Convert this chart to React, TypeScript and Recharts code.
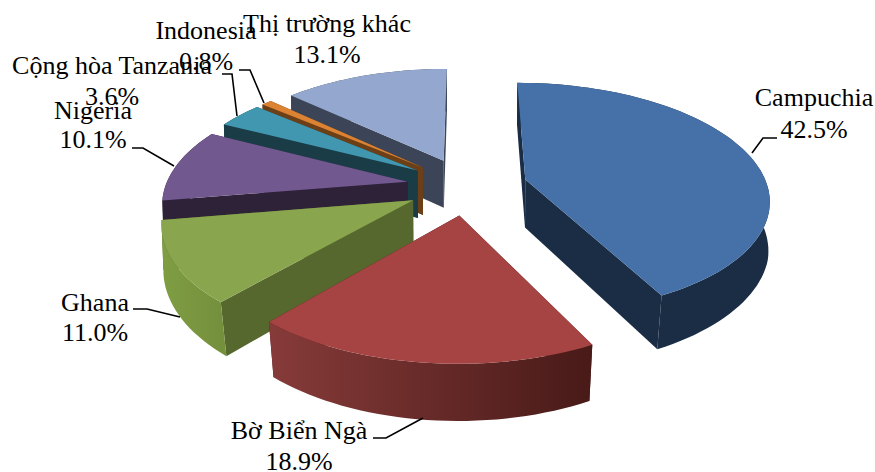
import React from "react";
import { PieChart, Pie } from "recharts";

// values, in the order the slices run clockwise from 12 o'clock
const categories = ["Campuchia", "Bờ Biển Ngà", "Ghana", "Nigeria", "Cộng hòa Tanzania", "Indonesia", "Thị trường khác"];
const shares = [42.5, 18.9, 11.0, 10.1, 3.6, 0.8, 13.1];
const shareLabels = ["42.5%", "18.9%", "11.0%", "10.1%", "3.6%", "0.8%", "13.1%"];

// top face, cut face, outer wall gradient (left to right)
const topColors = ["#4571a8", "#a54442", "#89a54e", "#71588f", "#4197af", "#dc8233", "#94a8cf"];
const cutColors = ["#1b2d45", "#4a1c1a", "#56682e", "#2e2239", "#1a3c47", "#6d3f17", "#3c4557"];
const wallFrom = ["#1b2d45", "#863b39", "#7f9e43", "#2e2239", "#1a3c47", "#6d3f17", "#3c4557"];
const wallTo = ["#1b2d45", "#481a18", "#75903d", "#2e2239", "#1a3c47", "#6d3f17", "#3c4557"];

// label layout: centre x, baselines, leader line
const labelX = [814, 299, 95, 93, 112, 206, 327];
const labelY = [106, 439, 311, 119, 74, 39, 32];
const labelGap = [32, 31, 30, 29, 31, 31, 31];
const leaders = [
  "752,153 763,138 777,138",
  "373,438 386,438 423,418",
  "133,309 147,309 180,317",
  "132,148 143,148 174,166",
  "222,74 232,74 237,116",
  "239,70 250,70 264,103",
  "",
];

const CX = 467;
const CY = 186;
const RADIUS = 242;
const TILT = 114;
const PERSPECTIVE = 0.16;
const EXPLODE = 0.25;
const RAD = Math.PI / 180;

// paint back slices first: reversed list, running counter-clockwise from the top
const rows = categories.map((name, i) => ({ name, value: shares[i] })).reverse();

type Pt = [number, number];

// ground plane (unit radius) to screen
function project(x: number, z: number): Pt {
  const w = 1 + PERSPECTIVE * z;
  return [CX + (RADIUS * x) / w, CY - (TILT * z) / w];
}

// same point at the bottom of the slice; the sides lean in more toward the front
function lower([x, y]: Pt): Pt {
  const lean = 0.023 * Math.min(1, Math.max(0.2, (y - 190) / 110));
  return [CX + (x - CX) * (1 - lean), y + 47 + (y - 160) * 0.05];
}

const toPath = (pts: Pt[]) =>
  "M" + pts.map((p) => p[0].toFixed(1) + " " + p[1].toFixed(1)).join("L") + "Z";

function Slice3D(props: any) {
  const { startAngle, endAngle, index } = props;
  const slot = categories.length - 1 - index;
  const mid = (startAngle + endAngle) / 2;
  const ox = EXPLODE * Math.cos(mid * RAD);
  const oz = EXPLODE * Math.sin(mid * RAD);

  const apex = project(ox, oz);
  const rim: Pt[] = [];
  const steps = Math.max(2, Math.ceil((endAngle - startAngle) / 2));
  for (let i = 0; i <= steps; i++) {
    const a = (startAngle + ((endAngle - startAngle) * i) / steps) * RAD;
    rim.push(project(ox + Math.cos(a), oz + Math.sin(a)));
  }
  const first = rim[0];
  const last = rim[rim.length - 1];
  const xs = rim.map((p) => p[0]);
  const gradId = "wall-" + slot;

  return (
    <g>
      <defs>
        <linearGradient id={gradId} gradientUnits="userSpaceOnUse" x1={Math.min(...xs)} x2={Math.max(...xs)} y1={0} y2={0}>
          <stop offset="0" stopColor={wallFrom[slot]} />
          <stop offset="1" stopColor={wallTo[slot]} />
        </linearGradient>
      </defs>
      <path d={toPath([apex, first, lower(first), lower(apex)])} fill={cutColors[slot]} />
      <path d={toPath([apex, last, lower(last), lower(apex)])} fill={cutColors[slot]} />
      <path d={toPath([...rim, ...rim.map(lower).reverse()])} fill={`url(#${gradId})`} />
      <path d={toPath([apex, ...rim])} fill={topColors[slot]} />
    </g>
  );
}

function SliceLabel(props: any) {
  const slot = categories.length - 1 - props.index;
  return (
    <g>
      {leaders[slot] && <polyline points={leaders[slot]} fill="none" stroke="#000" strokeWidth={1.6} />}
      <text x={labelX[slot]} y={labelY[slot]} textAnchor="middle" fontFamily="'Liberation Serif'" fontSize={26} fill="#000">
        {categories[slot]}
      </text>
      <text x={labelX[slot]} y={labelY[slot] + labelGap[slot]} textAnchor="middle" fontFamily="'Liberation Serif'" fontSize={26} fill="#000">
        {shareLabels[slot]}
      </text>
    </g>
  );
}

export default function App() {
  return (
    <div style={{ position: "absolute", left: 0, top: 0, width: 875, height: 472 }}>
      <PieChart width={875} height={472} margin={{ top: 0, right: 0, bottom: 0, left: 0 }}>
        <Pie
          data={rows}
          dataKey="value"
          nameKey="name"
          cx={CX}
          cy={CY}
          innerRadius={0}
          outerRadius={RADIUS}
          startAngle={90}
          endAngle={450}
          stroke="none"
          shape={Slice3D}
          label={SliceLabel}
          labelLine={false}
          isAnimationActive={false}
        />
      </PieChart>
    </div>
  );
}
